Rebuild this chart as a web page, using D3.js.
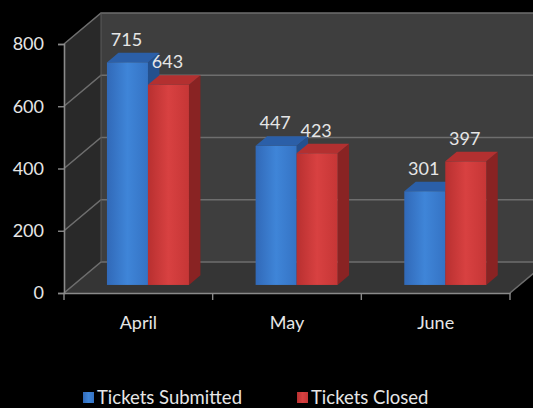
<!DOCTYPE html>
<html>
<head>
<meta charset="utf-8">
<script src="https://cdn.jsdelivr.net/npm/d3@7"></script>
<style>
  html, body { margin: 0; padding: 0; background: #000; }
  svg { display: block; }
</style>
</head>
<body>
<div id="chart"></div>
<script>
// Tickets per month, 3D clustered columns
const months = ["April", "May", "June"]
const seriesNames = ["Tickets Submitted", "Tickets Closed"]
const submitted = [715, 447, 301]
const closed = [643, 423, 397]
const yTicks = [0, 200, 400, 600, 800]

const width = 533
const height = 408
const font = "Lato, 'Open Sans', sans-serif"

// depth offset of the back wall, and where the columns sit in depth
const DX = 37, DY = -31
const Z0 = 0.26, Z1 = 0.57

const svg = d3.select("#chart").append("svg")
  .attr("width", width)
  .attr("height", height)
  .style("background", "#000")

const x0 = d3.scaleBand().domain(months).range([64, 510]).padding(0)
const x1 = d3.scaleBand().domain(seriesNames).range([0, 82]).padding(0)
const y = d3.scaleLinear().domain([0, 800]).range([293, 44])

const P = (px, py, z) => [px + z * DX, py + z * DY]
const poly = pts => pts.map(p => p.join(",")).join(" ")

const x0min = 64, x0max = 510
const yTop = y(800), yBot = y(0)

// walls
svg.append("polygon")
  .attr("points", poly([P(x0min, yTop, 1), P(x0max + 60, yTop, 1), P(x0max + 60, yBot, 1), P(x0min, yBot, 1)]))
  .attr("fill", "#3e3e3e")
svg.append("polygon")
  .attr("points", poly([P(x0min, yTop, 0), P(x0min, yTop, 1), P(x0min, yBot, 1), P(x0min, yBot, 0)]))
  .attr("fill", "#292929")
svg.append("polygon")
  .attr("points", poly([P(x0min, yBot, 0), P(x0min, yBot, 1), P(x0max, yBot, 1), P(x0max, yBot, 0)]))
  .attr("fill", "#353535")

// gridlines on back and side walls
yTicks.forEach(t => {
  const a = P(x0min, y(t), 0), b = P(x0min, y(t), 1), c = P(x0max + 60, y(t), 1)
  svg.append("polyline")
    .attr("points", poly([a, b, c]))
    .attr("fill", "none")
    .attr("stroke", "#6e6e6e")
    .attr("stroke-width", 1.6)
})
// back wall vertical edge
svg.append("line")
  .attr("x1", x0min + DX).attr("y1", yTop + DY)
  .attr("x2", x0min + DX).attr("y2", yBot + DY)
  .attr("stroke", "#5a5a5a")
// floor right edge
svg.append("line")
  .attr("x1", x0max).attr("y1", yBot)
  .attr("x2", x0max + DX).attr("y2", yBot + DY)
  .attr("stroke", "#6e6e6e").attr("stroke-width", 1.6)

// bar gradients
const defs = svg.append("defs")
const palette = {
  "Tickets Submitted": { front: ["#3169b8", "#3f85d8", "#3573c4"], top: "#2b5fa8", side: "#24508e" },
  "Tickets Closed": { front: ["#b83030", "#d84141", "#c63636"], top: "#b33030", side: "#892323" }
}
seriesNames.forEach((s, i) => {
  const g = defs.append("linearGradient").attr("id", "front" + i)
    .attr("x1", "0%").attr("x2", "100%").attr("y1", "0%").attr("y2", "0%")
  palette[s].front.forEach((c, k) => g.append("stop").attr("offset", (k * 50) + "%").attr("stop-color", c))
})

// bars
const values = [submitted, closed]
const labels = []
months.forEach((m, mi) => {
  const cx = x0(m) + x0.bandwidth() / 2 - 41
  seriesNames.forEach((s, si) => {
    const v = values[si][mi]
    const xl = cx + x1(s), xr = xl + x1.bandwidth()
    const yt = y(v), yb = y(0)
    const g = svg.append("g")
    // side
    g.append("polygon")
      .attr("points", poly([P(xr, yt, Z0), P(xr, yt, Z1), P(xr, yb, Z1), P(xr, yb, Z0)]))
      .attr("fill", palette[s].side)
    // top
    g.append("polygon")
      .attr("points", poly([P(xl, yt, Z0), P(xl, yt, Z1), P(xr, yt, Z1), P(xr, yt, Z0)]))
      .attr("fill", palette[s].top)
    // front
    const f0 = P(xl, yt, Z0), f1 = P(xr, yb, Z0)
    g.append("rect")
      .attr("x", f0[0]).attr("y", f0[1])
      .attr("width", f1[0] - f0[0]).attr("height", f1[1] - f0[1])
      .attr("fill", "url(#front" + si + ")")
    const back = P(xl, yt, Z1)
    labels.push({ x: (f0[0] + f1[0]) / 2 - 1, y: back[1] - 7, v })
  })
})

svg.selectAll(".val").data(labels).join("text")
  .attr("class", "val")
  .attr("x", d => d.x).attr("y", d => d.y)
  .attr("text-anchor", "middle")
  .attr("fill", "#e6e6e6")
  .attr("font-family", font)
  .attr("font-size", 18)
  .text(d => d.v)

// front axes
const yAxis = svg.append("g")
  .attr("transform", `translate(${x0min},0)`)
  .call(d3.axisLeft(y).tickValues(yTicks).tickSize(6).tickPadding(14))
yAxis.select(".domain").attr("stroke", "#8a8a8a").attr("stroke-width", 1.6)
yAxis.selectAll(".tick line").attr("stroke", "#8a8a8a").attr("stroke-width", 1.4)
yAxis.selectAll("text").attr("fill", "#e6e6e6").attr("font-family", font).attr("font-size", 18)

const xAxis = svg.append("g")
  .attr("transform", `translate(0,${yBot})`)
  .call(d3.axisBottom(x0).tickSize(0).tickPadding(23))
xAxis.select(".domain").attr("stroke", "#8a8a8a").attr("stroke-width", 1.6)
xAxis.selectAll("text").attr("fill", "#e6e6e6").attr("font-family", font).attr("font-size", 18)
// category separators
xAxis.selectAll(".sep").data(months.map(m => x0(m) + x0.bandwidth()).concat([x0min]))
  .join("line")
  .attr("class", "sep")
  .attr("x1", d => d).attr("x2", d => d)
  .attr("y1", 0).attr("y2", 7)
  .attr("stroke", "#8a8a8a").attr("stroke-width", 1.4)

// legend
const legendX = [83, 297]
const leg = svg.selectAll(".leg").data(seriesNames).join("g")
  .attr("class", "leg")
  .attr("transform", (d, i) => `translate(${legendX[i]},392)`)
leg.append("rect")
  .attr("width", 11).attr("height", 11)
  .attr("fill", (d, i) => "url(#front" + i + ")")
leg.append("text")
  .attr("x", 14).attr("y", 11.5)
  .attr("fill", "#e6e6e6")
  .attr("font-family", font)
  .attr("font-size", 18.5)
  .text(d => d)
</script>
</body>
</html>
